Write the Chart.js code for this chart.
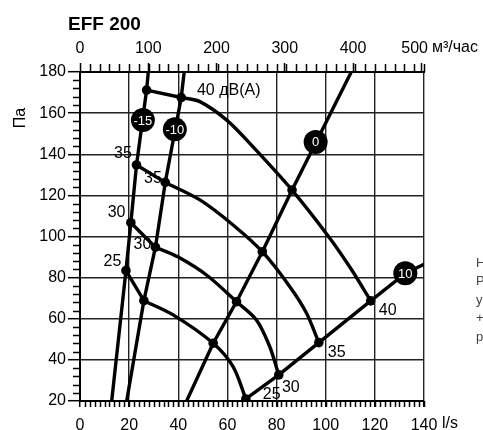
<!DOCTYPE html>
<html><head><meta charset="utf-8">
<style>html,body{margin:0;padding:0;background:#fff;overflow:hidden}#wrap{width:483px;height:430px;position:relative}</style>
<script src="https://cdn.jsdelivr.net/npm/chart.js@4.4.0/dist/chart.umd.min.js"></script>
</head><body><div id="wrap"><canvas id="c" width="483" height="430"></canvas></div>
<script>
// ---------- data: x = airflow (l/s), y = pressure (Pa) ----------
const flowTicksLs = [0, 20, 40, 60, 80, 100, 120, 140];
const flowTicksM3h = [0, 100, 200, 300, 400, 500];
const pressureTicks = [20, 40, 60, 80, 100, 120, 140, 160, 180];

// system (damper setting) lines
const lineM15Q = [12.9, 18.7, 20.7, 23.0, 27.1, 27.8];
const lineM15P = [20, 83.4, 106.7, 134.8, 171.2, 180];
const lineM10Q = [19.0, 26.0, 30.7, 34.7, 41.2, 42.4];
const lineM10P = [20, 68.8, 94.8, 126.3, 167.6, 180];
const line0Q = [43.4, 54.2, 63.7, 74.2, 86.3, 110.4];
const line0P = [20, 48.1, 68.3, 92.6, 122.6, 180];
const line10Q = [67.5, 80.9, 97.2, 118.3, 132.4, 140];
const line10P = [21, 32.7, 48.4, 68.7, 82.1, 86.5];

// sound level curves dB(A): marked points (on the system lines)
const noise25Q = [18.7, 26.0, 54.2, 67.5];
const noise25P = [83.4, 68.8, 48.1, 21];
const noise30Q = [20.7, 30.7, 63.7, 80.9];
const noise30P = [106.7, 94.8, 68.3, 32.7];
const noise35Q = [23.0, 34.7, 74.2, 97.2];
const noise35P = [134.8, 126.3, 92.6, 48.4];
const noise40Q = [27.1, 41.2, 86.3, 118.3];
const noise40P = [171.2, 167.6, 122.6, 68.7];

// sound level curves: traced course (marked points + points read along the arcs)
const curve25Q = [18.7, 26.0, 37.9, 54.2, 62.3, 67.5];
const curve25P = [83.4, 68.8, 61.9, 48.1, 36.7, 21];
const curve30Q = [20.7, 30.7, 39.8, 52.0, 63.7, 71.8, 77.2, 80.9];
const curve30P = [106.7, 94.8, 90.1, 80.8, 68.3, 59.4, 46.5, 32.7];
const curve35Q = [23.0, 34.7, 48.8, 62.3, 74.2, 85.4, 92.2, 97.2];
const curve35P = [134.8, 126.3, 117.8, 105.6, 92.6, 75.6, 62.7, 48.4];
const curve40Q = [27.1, 41.2, 48.8, 59.6, 69.1, 86.3, 101.6, 110.6, 118.3];
const curve40P = [171.2, 167.6, 165.6, 156.7, 145.3, 122.6, 99.3, 83.7, 68.7];

// badges on system lines
const badgeText = ['-15', '-10', '0', '10'];
const badgeQ = [25.6, 38.6, 95.9, 132.4];
const badgeP = [156.6, 152.1, 146.0, 82.1];

// sound level labels
const dbLabelText = ['25', '30', '35', '35', '30', '40 дВ(A)', '40', '35', '30', '25'];
const dbLabelQ = [13.2, 14.9, 17.5, 29.7, 25.4, 47.6, 125.2, 104.5, 85.8, 78.0];
const dbLabelP = [87.9, 111.7, 140.1, 128.0, 95.9, 171.2, 63.8, 43.6, 26.6, 22.9];

const sideLetters = ['Н', 'Р', 'у', '+', 'р'];

// ---------- chart ----------
const M3H_PER_LS = 3.6;
const FONT = "'Liberation Sans', Arial, sans-serif";
Chart.defaults.font.family = FONT;
Chart.defaults.color = '#000';

const pts = (q, p) => q.map((v, i) => ({x: v, y: p[i]}));
const lineDs = (data, tension) => ({type: 'line', data, borderColor: '#000', borderWidth: 3.4,
  pointRadius: 0, tension, fill: false, order: 2, borderCapStyle: 'round', borderJoinStyle: 'round'});
const dotsDs = (q, p) => ({type: 'scatter', data: pts(q, p), pointRadius: 4.8,
  pointBackgroundColor: '#000', pointBorderWidth: 0, order: 1});

const datasets = [
  lineDs(pts(lineM15Q, lineM15P), 0),
  lineDs(pts(lineM10Q, lineM10P), 0),
  lineDs(pts(line0Q, line0P), 0),
  lineDs(pts(line10Q, line10P), 0)
];
[[curve25Q, curve25P], [curve30Q, curve30P], [curve35Q, curve35P], [curve40Q, curve40P]].forEach(([q, p]) => {
  const all = pts(q, p);
  datasets.push(lineDs(all.slice(0, 2), 0));   // straight part between the two left lines
  datasets.push(lineDs(all.slice(1), 0.3));    // smooth arc
});
[[noise25Q, noise25P], [noise30Q, noise30P], [noise35Q, noise35P], [noise40Q, noise40P]].forEach(([q, p]) => {
  datasets.push(dotsDs(q, p));
});
datasets.push({type: 'scatter', data: pts(badgeQ, badgeP), pointRadius: 12, pointBackgroundColor: '#000',
  pointBorderWidth: 0, order: 0});

const texts = {
  id: 'texts',
  afterDraw(chart) {
    const {ctx, chartArea: ca, scales: {x, y}} = chart;
    ctx.save();
    // minor ticks
    ctx.strokeStyle = '#000';
    ctx.lineWidth = 1.5;
    ctx.beginPath();
    for (let p = 20; p <= 180; p += 4) {
      if (p % 20 === 0) continue;
      const py = Math.round(y.getPixelForValue(p)) + 0.5;
      ctx.moveTo(ca.left - 7, py); ctx.lineTo(ca.left, py);
    }
    for (let q = 4; q <= 140; q += 4) {
      const px = Math.round(x.getPixelForValue(q)) + 0.5;
      ctx.moveTo(px, ca.top - 8); ctx.lineTo(px, ca.top);
    }
    for (let q = 2; q <= 140; q += 2) {
      const px = Math.round(x.getPixelForValue(q)) + 0.5;
      ctx.moveTo(px, ca.bottom); ctx.lineTo(px, ca.bottom + 6);
    }
    ctx.stroke();

    // badge texts
    ctx.fillStyle = '#fff';
    ctx.font = '13px ' + FONT;
    ctx.textAlign = 'center';
    ctx.textBaseline = 'middle';
    badgeText.forEach((t, i) => {
      ctx.fillText(t, x.getPixelForValue(badgeQ[i]), y.getPixelForValue(badgeP[i]) + 1);
    });

    // dB labels
    ctx.fillStyle = '#000';
    ctx.font = '16px ' + FONT;
    dbLabelText.forEach((t, i) => {
      ctx.textAlign = t.length > 3 ? 'left' : 'center';
      ctx.fillText(t, x.getPixelForValue(dbLabelQ[i]), y.getPixelForValue(dbLabelP[i]));
    });

    // title
    ctx.textAlign = 'left';
    ctx.textBaseline = 'alphabetic';
    ctx.font = 'bold 19px ' + FONT;
    ctx.fillText('EFF 200', 68, 30);

    // units
    ctx.font = '16px ' + FONT;
    ctx.textBaseline = 'middle';
    ctx.fillText('м³/час', 432, 48);
    ctx.fillText('l/s', 442, 424);

    // y title
    ctx.save();
    ctx.translate(21, 118);
    ctx.rotate(-Math.PI / 2);
    ctx.textAlign = 'center';
    ctx.fillText('Па', 0, 0);
    ctx.restore();

    // side text (cut off by the window edge)
    ctx.fillStyle = '#444';
    ctx.font = '13px ' + FONT;
    ctx.textAlign = 'left';
    sideLetters.forEach((t, i) => ctx.fillText(t, 476, 263 + i * 18.5));
    ctx.restore();
  }
};

new Chart(document.getElementById('c'), {
  data: {datasets},
  options: {
    responsive: false,
    animation: false,
    devicePixelRatio: 1,
    layout: {padding: {left: 0, right: 59, top: 0, bottom: 0}},
    plugins: {legend: {display: false}, tooltip: {enabled: false}, title: {display: false}},
    scales: {
      x: {
        type: 'linear', position: 'bottom', min: 0, max: 140,
        afterBuildTicks: s => { s.ticks = flowTicksLs.map(v => ({value: v})); },
        afterFit: s => { s.height = 29; },
        ticks: {font: {size: 16}, color: '#000', padding: 9, maxRotation: 0, autoSkip: false},
        grid: {color: '#222', lineWidth: 1.4, tickLength: 6, tickColor: '#000', tickWidth: 1.5},
        border: {display: true, color: '#000', width: 2}
      },
      x2: {
        type: 'linear', position: 'top', min: 0, max: 140 * M3H_PER_LS,
        afterBuildTicks: s => { s.ticks = flowTicksM3h.map(v => ({value: v})); },
        afterFit: s => { s.height = 72; },
        ticks: {font: {size: 16}, color: '#000', padding: 5, maxRotation: 0, autoSkip: false,
          callback: v => v === 500 ? '500   ' : String(v)},
        grid: {drawOnChartArea: false, tickLength: 9, tickColor: '#000', tickWidth: 1.5},
        border: {display: true, color: '#000', width: 2}
      },
      y: {
        type: 'linear', position: 'left', min: 20, max: 180,
        afterBuildTicks: s => { s.ticks = pressureTicks.map(v => ({value: v})); },
        afterFit: s => { s.width = 80; },
        ticks: {font: {size: 16}, color: '#000', padding: 2},
        grid: {color: '#222', lineWidth: 1.4, tickLength: 12, tickColor: '#000', tickWidth: 1.5},
        border: {display: true, color: '#000', width: 2}
      }
    }
  },
  plugins: [texts]
});
</script></body></html>
